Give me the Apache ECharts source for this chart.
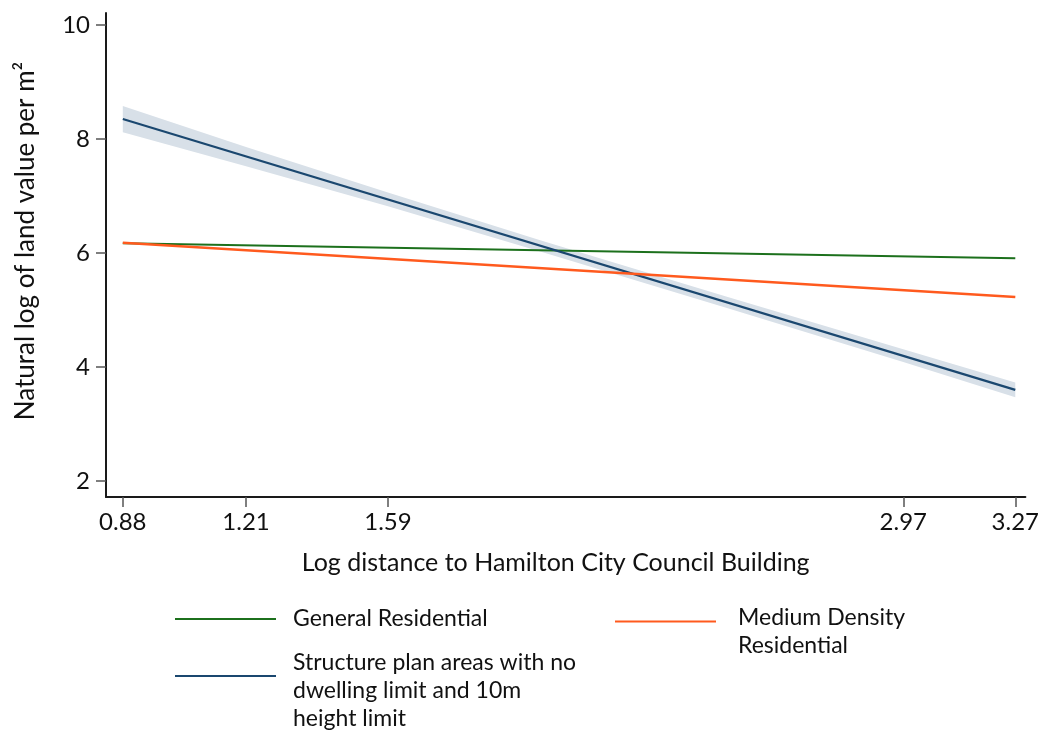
<!DOCTYPE html>
<html>
<head>
<meta charset="utf-8">
<script src="https://cdn.jsdelivr.net/npm/echarts@6/dist/echarts.min.js"></script>
<style>
html,body{margin:0;padding:0;background:#fff;}
#chart{width:1042px;height:733px;}
</style>
</head>
<body>
<div id="chart"></div>
<script>
// Data
var xTickValues = [0.88, 1.21, 1.59, 2.97, 3.27];
var yTickValues = [2, 4, 6, 8, 10];
var lineX = [0.88, 3.27];
var generalResidential = [6.17, 5.91];
var mediumDensity = [6.18, 5.23];
var structurePlan = [8.35, 3.60];
var bandX = [0.88, 1.21, 1.59, 2.0, 2.5, 2.97, 3.27];
var bandLower = [8.12, 7.52, 6.82, 6.02, 5.03, 4.09, 3.47];
var bandUpper = [8.58, 7.86, 7.06, 6.22, 5.23, 4.31, 3.73];
var seriesNames = ['General Residential', 'Medium Density Residential', 'Structure plan areas with no dwelling limit and 10m height limit'];
var legendLines = {
  'Medium Density Residential': ['Medium Density', 'Residential'],
  'Structure plan areas with no dwelling limit and 10m height limit': ['Structure plan areas with no', 'dwelling limit and 10m', 'height limit']
};

var FONT = 'Lato';
function pairs(xs, ys){ return xs.map(function(x,i){ return [x, ys[i]]; }); }
function richName(name){
  var lines = legendLines[name] || [name];
  return '{p| }\n' + lines.map(function(l){ return '{t|' + l + '}'; }).join('\n');
}

var chart = echarts.init(document.getElementById('chart'));
var axisLineStyle = {color:'#1a1a1a', width:2};
function legendStyle(spacer){
  return {fontSize:23, fontFamily:FONT, color:'#111', lineHeight:28, padding:[0,0,0,0],
    rich:{p:{fontSize:4, lineHeight:spacer, fontFamily:FONT}, t:{fontSize:23, lineHeight:28, fontFamily:FONT, color:'#111'}}};
}
var option = {
  animation:false,
  backgroundColor:'#fff',
  textStyle:{fontFamily:FONT},
  grid:{left:106, right:15, top:13, bottom:236, containLabel:false},
  xAxis:{
    type:'value', min:0.835, max:3.297,
    name:'Log distance to Hamilton City Council Building',
    nameLocation:'middle', nameGap:53,
    nameTextStyle:{fontFamily:FONT, fontSize:25, color:'#111', padding:[0,20,0,0]},
    axisLine:{show:true, lineStyle:axisLineStyle},
    axisTick:{show:true, length:10, lineStyle:{color:'#555', width:1.5}, customValues:xTickValues},
    axisLabel:{show:true, fontSize:24, color:'#111', margin:13, fontFamily:FONT, customValues:xTickValues,
      formatter:function(v){ return v.toFixed(2); }},
    splitLine:{show:false}
  },
  yAxis:{
    type:'value', min:1.72, max:10.21,
    name:'Natural log of land value per m²',
    nameLocation:'middle', nameGap:67,
    nameTextStyle:{fontFamily:FONT, fontSize:26, color:'#111', padding:[0,0,0,28]},
    axisLine:{show:true, lineStyle:axisLineStyle},
    axisTick:{show:true, length:10, lineStyle:{color:'#555', width:1.5}, customValues:yTickValues},
    axisLabel:{show:true, fontSize:24, color:'#111', margin:16, fontFamily:FONT, customValues:yTickValues},
    splitLine:{show:false}
  },
  legend:[
    {data:[seriesNames[0]], left:170, top:600, itemWidth:101, itemHeight:2, itemGap:0,
      icon:'rect', textStyle:{fontSize:23, fontFamily:FONT, color:'#111', lineHeight:28, padding:[0,0,0,12]}},
    {data:[seriesNames[2]], left:170, top:614, itemWidth:101, itemHeight:2, itemGap:0,
      icon:'rect', formatter:richName, textStyle:Object.assign(legendStyle(30), {padding:[0,0,0,12]})},
    {data:[seriesNames[1]], left:610, top:578, itemWidth:101, itemHeight:2, itemGap:0,
      icon:'rect', formatter:richName, textStyle:Object.assign(legendStyle(21), {padding:[0,0,0,17]})}
  ],
  series:[
    {type:'custom', name:'band', silent:true, z:1,
      data:pairs(bandX, bandUpper),
      renderItem:function(params, api){
        if (params.dataIndex !== 0) return;
        var pts = [];
        for (var i = 0; i < bandX.length; i++) pts.push(api.coord([bandX[i], bandUpper[i]]));
        for (var j = bandX.length - 1; j >= 0; j--) pts.push(api.coord([bandX[j], bandLower[j]]));
        return {type:'polygon', shape:{points:pts}, style:{fill:'#d8e0e8'}};
      }},
    {type:'line', name:seriesNames[0], data:pairs(lineX, generalResidential), symbol:'none',
      itemStyle:{color:'#1c701c'}, lineStyle:{color:'#1c701c', width:2}, z:3},
    {type:'line', name:seriesNames[2], data:pairs(lineX, structurePlan), symbol:'none',
      itemStyle:{color:'#1a476f'}, lineStyle:{color:'#1a476f', width:2.2}, z:3},
    {type:'line', name:seriesNames[1], data:pairs(lineX, mediumDensity), symbol:'none',
      itemStyle:{color:'#ff5a1e'}, lineStyle:{color:'#ff5a1e', width:2.5}, z:4}
  ]
};
chart.setOption(option);
</script>
</body>
</html>
